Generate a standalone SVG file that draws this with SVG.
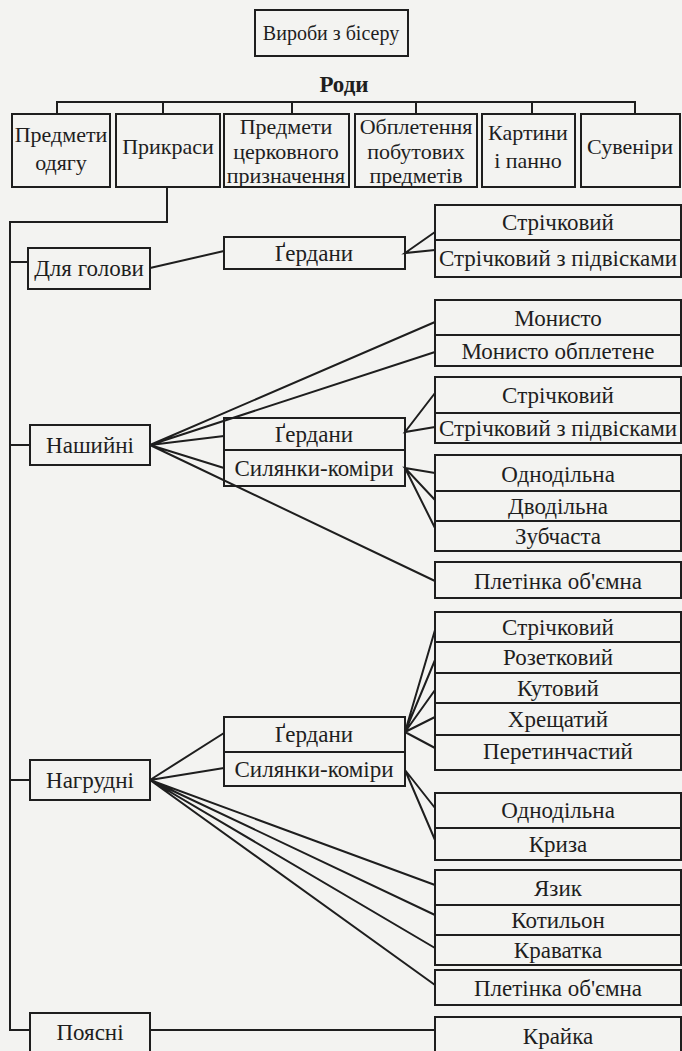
<svg xmlns="http://www.w3.org/2000/svg" width="682" height="1051" viewBox="0 0 682 1051">
<style>
.bx{fill:none;stroke:#1e1e1e;stroke-width:2}
.t{font-family:"Liberation Serif","Times New Roman",serif;font-size:23px;fill:#1e1e1e;text-anchor:middle}
.h{font-size:22px}
.r{font-size:20px}
.b{font-weight:bold}
.c{fill:none;stroke:#1e1e1e;stroke-width:2;stroke-linejoin:miter}
</style>
<rect x="0" y="0" width="682" height="1051" fill="#f3f3f1"/>
<g id="connectors">
<path class="c" d="M57 114V102H635V114M163 102V114M292 102V114M416 102V114M532 102V114"/>
<path class="c" d="M167 187V222H10V1030H30"/>
<path class="c" d="M10 262H28M10 445H30M10 780H30"/>
<path class="c" d="M150 268L224 251"/>
<path class="c" d="M435 232L405 253L435 250"/>
<path class="c" d="M435 322L150 445L435 352M224 436L150 445L224 468M150 445L435 581"/>
<path class="c" d="M435 393L405 432L435 427"/>
<path class="c" d="M435 473L405 468L435 500M405 468L435 528"/>
<path class="c" d="M224 733L150 780L224 768M150 780L435 885M150 780L435 915M150 780L435 948M150 780L435 985"/>
<path class="c" d="M435 630L405 732L435 660M405 732L435 690M405 732L435 717M405 732L435 748"/>
<path class="c" d="M435 808L405 770L435 840"/>
<path class="c" d="M150 1030H435"/>
</g>
<g id="root"><rect class="bx" x="255" y="10" width="153" height="46"/><text class="t r" x="331" y="40">Вироби з бісеру</text></g>
<g id="rody"><text class="t b" x="344" y="92">Роди</text></g>
<g id="n-odyag"><rect class="bx" x="12" y="114" width="98" height="73"/><text class="t h" x="61" y="142">Предмети</text><text class="t h" x="61" y="170">одягу</text></g>
<g id="n-prykrasy"><rect class="bx" x="116" y="114" width="104" height="73"/><text class="t h" x="168" y="154">Прикраси</text></g>
<g id="n-tserk"><rect class="bx" x="224" y="114" width="125" height="73"/><text class="t h" x="286" y="134">Предмети</text><text class="t h" x="286" y="159">церковного</text><text class="t h" x="286" y="183">призначення</text></g>
<g id="n-obpl"><rect class="bx" x="355" y="114" width="122" height="73"/><text class="t h" x="416" y="134">Обплетення</text><text class="t h" x="416" y="159">побутових</text><text class="t h" x="416" y="183">предметів</text></g>
<g id="n-kartyny"><rect class="bx" x="482" y="114" width="93" height="73"/><text class="t h" x="528" y="140">Картини</text><text class="t h" x="528" y="168">і панно</text></g>
<g id="n-suveniry"><rect class="bx" x="581" y="114" width="99" height="73"/><text class="t h" x="630" y="154">Сувеніри</text></g>
<g id="n-holova"><rect class="bx" x="28" y="248" width="122" height="41"/><text class="t" x="89" y="276">Для голови</text></g>
<g id="n-gerdany1"><rect class="bx" x="224" y="237" width="181" height="32"/><text class="t" x="314" y="261">Ґердани</text></g>
<g id="n-strich1"><rect class="bx" x="435" y="205" width="246" height="35"/><text class="t" x="558" y="230">Стрічковий</text></g>
<g id="n-strichp1"><rect class="bx" x="435" y="240" width="246" height="37"/><text class="t" x="558" y="266">Стрічковий з підвісками</text></g>
<g id="n-monysto"><rect class="bx" x="435" y="300" width="246" height="35"/><text class="t" x="558" y="326">Монисто</text></g>
<g id="n-monystoo"><rect class="bx" x="435" y="335" width="246" height="31"/><text class="t" x="558" y="359">Монисто обплетене</text></g>
<g id="n-strich2"><rect class="bx" x="435" y="377" width="246" height="36"/><text class="t" x="558" y="403">Стрічковий</text></g>
<g id="n-strichp2"><rect class="bx" x="435" y="413" width="246" height="30"/><text class="t" x="558" y="436">Стрічковий з підвісками</text></g>
<g id="n-nashyini"><rect class="bx" x="30" y="425" width="120" height="40"/><text class="t" x="90" y="453">Нашийні</text></g>
<g id="n-gerdany2"><rect class="bx" x="224" y="418" width="181" height="32"/><text class="t" x="314" y="442">Ґердани</text></g>
<g id="n-sylyanky2"><rect class="bx" x="224" y="450" width="181" height="36"/><text class="t" x="314" y="476">Силянки-коміри</text></g>
<g id="n-odnod1"><rect class="bx" x="435" y="455" width="246" height="36"/><text class="t" x="558" y="482">Однодільна</text></g>
<g id="n-dvod"><rect class="bx" x="435" y="491" width="246" height="30"/><text class="t" x="558" y="514">Дводільна</text></g>
<g id="n-zub"><rect class="bx" x="435" y="521" width="246" height="30"/><text class="t" x="558" y="544">Зубчаста</text></g>
<g id="n-plet1"><rect class="bx" x="435" y="562" width="246" height="36"/><text class="t" x="558" y="589">Плетінка об'ємна</text></g>
<g id="n-strich3"><rect class="bx" x="435" y="612" width="246" height="30"/><text class="t" x="558" y="635">Стрічковий</text></g>
<g id="n-rozet"><rect class="bx" x="435" y="642" width="246" height="31"/><text class="t" x="558" y="665">Розетковий</text></g>
<g id="n-kut"><rect class="bx" x="435" y="673" width="246" height="30"/><text class="t" x="558" y="696">Кутовий</text></g>
<g id="n-khresh"><rect class="bx" x="435" y="703" width="246" height="32"/><text class="t" x="558" y="727">Хрещатий</text></g>
<g id="n-peret"><rect class="bx" x="435" y="735" width="246" height="35"/><text class="t" x="558" y="759">Перетинчастий</text></g>
<g id="n-gerdany3"><rect class="bx" x="224" y="717" width="181" height="35"/><text class="t" x="314" y="742">Ґердани</text></g>
<g id="n-sylyanky3"><rect class="bx" x="224" y="752" width="181" height="34"/><text class="t" x="314" y="777">Силянки-коміри</text></g>
<g id="n-nahrudni"><rect class="bx" x="30" y="760" width="120" height="40"/><text class="t" x="90" y="788">Нагрудні</text></g>
<g id="n-odnod2"><rect class="bx" x="435" y="793" width="246" height="35"/><text class="t" x="558" y="818">Однодільна</text></g>
<g id="n-kryza"><rect class="bx" x="435" y="828" width="246" height="32"/><text class="t" x="558" y="852">Криза</text></g>
<g id="n-yazyk"><rect class="bx" x="435" y="870" width="246" height="35"/><text class="t" x="558" y="896">Язик</text></g>
<g id="n-kotylon"><rect class="bx" x="435" y="905" width="246" height="30"/><text class="t" x="558" y="928">Котильон</text></g>
<g id="n-kravatka"><rect class="bx" x="435" y="935" width="246" height="30"/><text class="t" x="558" y="958">Краватка</text></g>
<g id="n-plet2"><rect class="bx" x="435" y="970" width="246" height="35"/><text class="t" x="558" y="996">Плетінка об'ємна</text></g>
<g id="n-kraika"><rect class="bx" x="435" y="1017" width="246" height="40"/><text class="t" x="558" y="1044">Крайка</text></g>
<g id="n-poyasni"><rect class="bx" x="30" y="1013" width="120" height="44"/><text class="t" x="90" y="1040">Поясні</text></g>
</svg>
